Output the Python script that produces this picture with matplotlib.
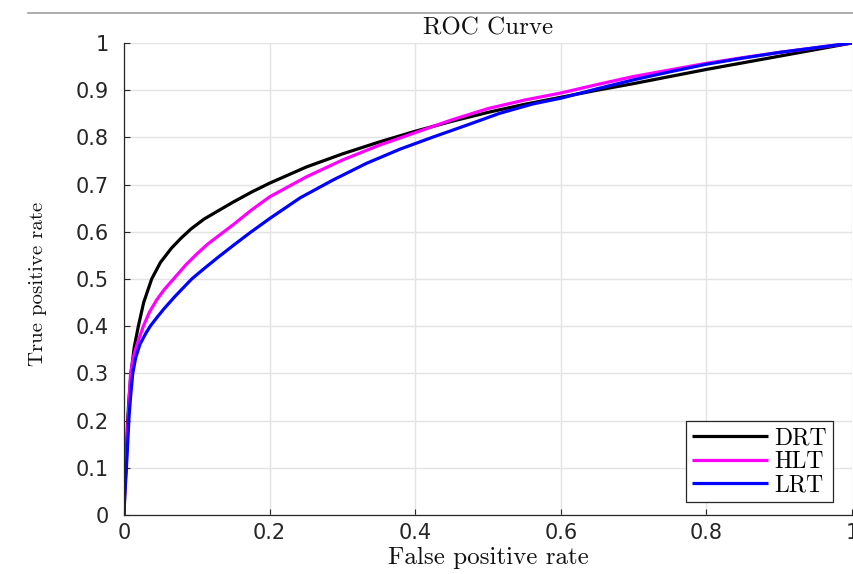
import matplotlib
matplotlib.use("Agg")
import matplotlib.pyplot as plt
from matplotlib.lines import Line2D

# ---- data ----
series_names = ["DRT", "HLT", "LRT"]

drt_fpr = [0, 0.001, 0.003, 0.005, 0.007, 0.0096, 0.014, 0.0197, 0.027, 0.038, 0.05, 0.065,
           0.078, 0.092, 0.11, 0.13, 0.15, 0.175, 0.2, 0.25, 0.3, 0.35, 0.4, 0.45, 0.5, 0.55,
           0.6, 0.65, 0.7, 0.75, 0.8, 0.85, 0.9, 0.95, 1.0]
drt_tpr = [0, 0.05, 0.12, 0.2, 0.25, 0.30, 0.355, 0.40, 0.45, 0.50, 0.535, 0.565,
           0.586, 0.606, 0.627, 0.645, 0.663, 0.684, 0.703, 0.737, 0.765, 0.79, 0.813, 0.834, 0.853, 0.870,
           0.885, 0.900, 0.914, 0.929, 0.944, 0.958, 0.972, 0.986, 1.0]

hlt_fpr = [0, 0.001, 0.003, 0.005, 0.007, 0.009, 0.013, 0.018, 0.0266, 0.035, 0.045, 0.055,
           0.068, 0.085, 0.1, 0.115, 0.132, 0.15, 0.175, 0.2, 0.25, 0.3, 0.35, 0.4, 0.45,
           0.5, 0.55, 0.6, 0.65, 0.7, 0.75, 0.8, 0.85, 0.9, 0.95, 1.0]
hlt_tpr = [0, 0.05, 0.11, 0.18, 0.24, 0.30, 0.335, 0.362, 0.40, 0.43, 0.456, 0.477,
           0.50, 0.530, 0.553, 0.574, 0.594, 0.615, 0.646, 0.674, 0.716, 0.752, 0.783, 0.810, 0.837,
           0.861, 0.879, 0.894, 0.912, 0.929, 0.943, 0.957, 0.969, 0.980, 0.990, 1.0]

lrt_fpr = [0, 0.001, 0.003, 0.005, 0.007, 0.009, 0.012, 0.016, 0.022, 0.03, 0.036, 0.045,
           0.055, 0.07, 0.093, 0.11, 0.13, 0.15, 0.173, 0.2, 0.242, 0.2875, 0.333, 0.379,
           0.425, 0.471, 0.516, 0.562, 0.6, 0.65, 0.7, 0.75, 0.8, 0.85, 0.9, 0.95, 1.0]
lrt_tpr = [0, 0.04, 0.09, 0.15, 0.21, 0.25, 0.30, 0.333, 0.362, 0.385, 0.40, 0.418,
           0.437, 0.463, 0.50, 0.522, 0.547, 0.571, 0.598, 0.628, 0.672, 0.710, 0.745, 0.775,
           0.801, 0.826, 0.851, 0.871, 0.883, 0.903, 0.922, 0.939, 0.955, 0.968, 0.980, 0.990, 1.0]

x_ticks = [0, 0.2, 0.4, 0.6, 0.8, 1.0]
x_tick_labels = ["0", "0.2", "0.4", "0.6", "0.8", "1"]
y_ticks = [0, 0.1, 0.2, 0.3, 0.4, 0.5, 0.6, 0.7, 0.8, 0.9, 1.0]
y_tick_labels = ["0", "0.1", "0.2", "0.3", "0.4", "0.5", "0.6", "0.7", "0.8", "0.9", "1"]

title_text = "ROC Curve"
x_label = "False positive rate"
y_label = "True positive rate"

# ---- styling ----
colors = ["#000000", "#ff00ff", "#0000ff"]
serif = "cmr10"
axis_color = "#262626"

fig = plt.figure(figsize=(8.54, 5.74), dpi=100)
ax = fig.add_axes([124 / 854, 1 - 515 / 574, 728 / 854, 472 / 574])

for fpr, tpr, name, c in zip([drt_fpr, hlt_fpr, lrt_fpr], [drt_tpr, hlt_tpr, lrt_tpr],
                             series_names, colors):
    ax.plot(fpr, tpr, color=c, lw=2.3, label=name, solid_capstyle="butt",
            solid_joinstyle="round")

ax.set_xlim(0, 1)
ax.set_ylim(0, 1)
ax.set_xticks(x_ticks)
ax.set_xticklabels(x_tick_labels)
ax.set_yticks(y_ticks)
ax.set_yticklabels(y_tick_labels)

for sp in ["top", "right"]:
    ax.spines[sp].set_visible(False)
for sp in ["left", "bottom"]:
    ax.spines[sp].set_color(axis_color)
    ax.spines[sp].set_linewidth(0.9)

ax.grid(True, color="#e3e3e3", lw=1.0)
ax.set_axisbelow(True)
ax.tick_params(axis="both", direction="in", length=4, width=0.8, color=axis_color,
               labelsize=15, labelcolor=axis_color)
ax.tick_params(axis="y", pad=11)
ax.tick_params(axis="x", pad=6)
for lab in ax.get_xticklabels() + ax.get_yticklabels():
    lab.set_fontfamily("DejaVu Sans")

ax.set_title(title_text, fontfamily=serif, fontsize=18, color="#111111", pad=6)
ax.set_xlabel(x_label, fontfamily=serif, fontsize=18, color="#111111", va="center")
ax.xaxis.set_label_coords(0.5, (515 - 558) / 472)
ax.set_ylabel(y_label, fontfamily=serif, fontsize=15, color="#111111", va="center")
ax.yaxis.set_label_coords((38 - 124) / 728, 0.49)

leg = ax.legend(loc="lower right", bbox_to_anchor=((833 - 124) / 728, (515 - 502) / 472),
                borderaxespad=0, prop={"family": serif, "size": 17}, frameon=True,
                fancybox=False, framealpha=1, edgecolor=axis_color, handlelength=3.2,
                handletextpad=0.3, labelspacing=0.05, borderpad=0.25)
leg.get_frame().set_linewidth(0.9)
for h in leg.get_lines():
    h.set_linewidth(2.3)

# thin gray rule at the top of the image
fig.add_artist(Line2D([28 / 854, 1.0], [1 - 12.7 / 574, 1 - 12.7 / 574],
                      transform=fig.transFigure, color="#a0a0a0", lw=1.2))

fig.savefig("out.png", dpi=100)
